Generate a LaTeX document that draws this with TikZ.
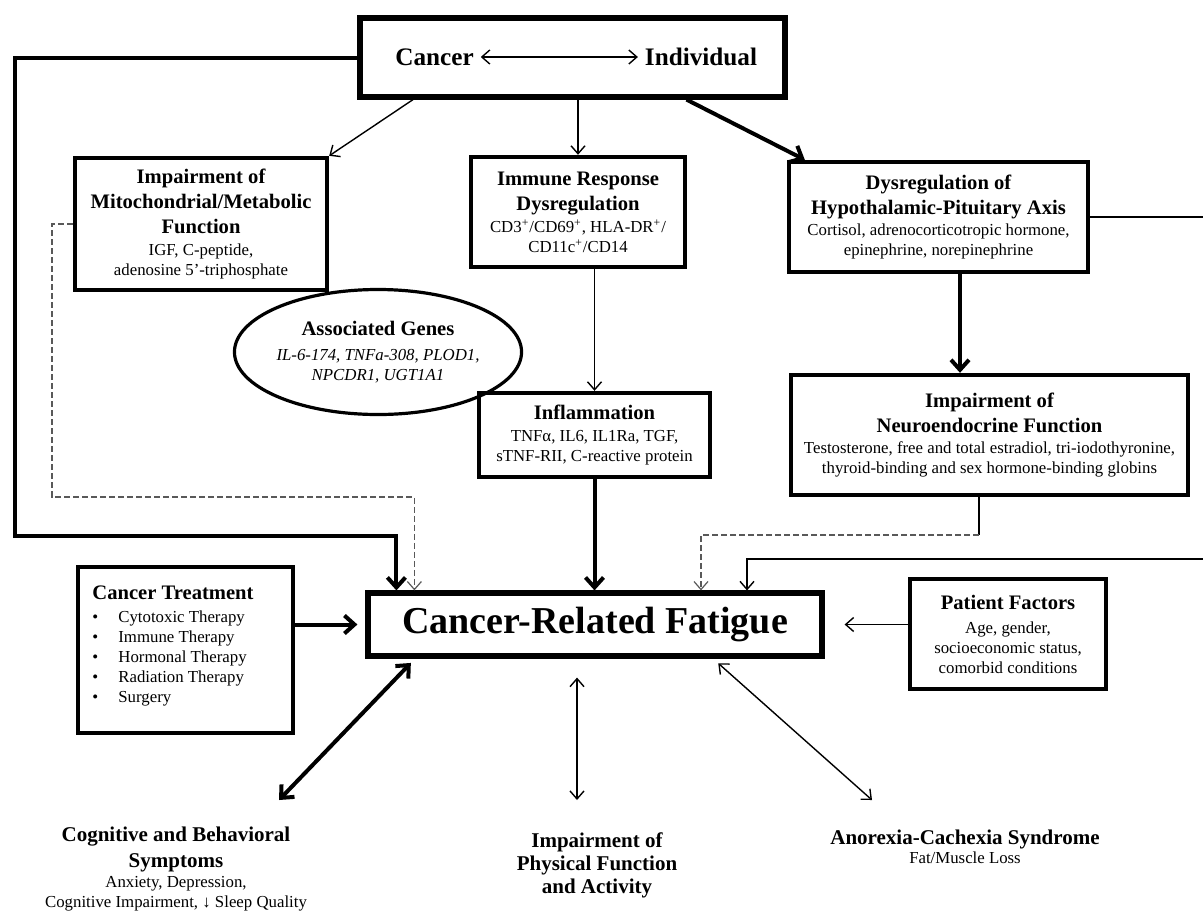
\documentclass[tikz,border=0pt]{standalone}
\usepackage{fontspec}
\setmainfont{Liberation Serif}
\usetikzlibrary{arrows.meta}
\usetikzlibrary{shapes.geometric}

\newcommand{\boxsmall}{\fontsize{8.4}{10}\selectfont}
\newcommand{\bhead}[1]{{\fontsize{10.3}{13}\selectfont\bfseries #1}}
\newcommand{\lhead}[1]{{\fontsize{10.5}{13}\selectfont\bfseries #1}}
\newcommand{\bitem}[1]{\makebox[13pt][l]{\textbullet}#1}

\begin{document}
\begin{tikzpicture}[x=0.5pt,y=-0.5pt,
    box/.style={draw,line width=2.2pt,align=center,inner sep=0pt,font=\boxsmall},
    lnk/.style={line width=0.7pt,-{Straight Barb[length=4pt,width=7pt]}},
    biglnk/.style={line width=2pt,-{Straight Barb[length=5pt,width=9pt]}},
    dashlnk/.style={line width=0.6pt,black!65,dash pattern=on 3pt off 1.5pt,-{Straight Barb[length=4pt,width=7pt]}}]
    \useasboundingbox (0,0) rectangle (1203,911);

    \node[box,line width=2.6pt,minimum width=212.5pt,minimum height=39.5pt] (top) at (572.5,57.5) {};
    \node[font=\fontsize{12.6}{15}\selectfont\bfseries] (cancer) at (434.5,57) {Cancer};
    \node[font=\fontsize{12.6}{15}\selectfont\bfseries] (indiv) at (701,57) {Individual};
    \draw[lnk,{Straight Barb[length=4pt,width=7pt]}-{Straight Barb[length=4pt,width=7pt]}] (cancer) -- (indiv);

    \node[box,minimum width=126pt,minimum height=66pt] (mito) at (201,224)
        {\bhead{Impairment of}\\[2.6pt]\bhead{Mitochondrial/Metabolic}\\[2.6pt]\bhead{Function}\\[0.8pt]IGF, C-peptide,\\adenosine 5’-triphosphate};
    \node[box,minimum width=107pt,minimum height=55pt] (immune) at (578,212)
        {\bhead{Immune Response}\\[2.6pt]\bhead{Dysregulation}\\[0.8pt]CD3\textsuperscript{+}/CD69\textsuperscript{+}, HLA-DR\textsuperscript{+}/\\CD11c\textsuperscript{+}/CD14};
    \node[box,minimum width=149.5pt,minimum height=55pt] (hpa) at (938.5,217)
        {\bhead{Dysregulation of}\\[2.6pt]\bhead{Hypothalamic-Pituitary Axis}\\[0.8pt]Cortisol, adrenocorticotropic hormone,\\epinephrine, norepinephrine};
    \node[draw,ellipse,line width=1.6pt,inner sep=0pt,minimum width=125pt,minimum height=62.5pt,align=center,font=\boxsmall\itshape] (genes) at (378,352)
        {\bhead{\upshape Associated Genes}\\[2.2pt]IL-6-174, TNFa-308, PLOD1,\\NPCDR1, UGT1A1};
    \node[box,minimum width=115.5pt,minimum height=42pt] (infl) at (594.5,435)
        {\bhead{Inflammation}\\[1pt]TNFα, IL6, IL1Ra, TGF,\\sTNF-RII, C-reactive protein};
    \node[box,minimum width=198.5pt,minimum height=60pt] (neuro) at (989.5,435)
        {\bhead{Impairment of}\\[2.6pt]\bhead{Neuroendocrine Function}\\[0.8pt]Testosterone, free and total estradiol, tri-iodothyronine,\\thyroid-binding and sex hormone-binding globins};

    \node[box,line width=2.6pt,minimum width=227pt,minimum height=31.5pt,font=\fontsize{19}{22}\selectfont\bfseries] (crf) at (595,624.5) {Cancer-Related Fatigue};
    \node[box,minimum width=107.5pt,minimum height=83pt] (tbox) at (185.5,650) {};
    \node[anchor=north west,inner sep=0pt,align=left,font=\boxsmall] (tlist) at (92,585)
        {\bhead{Cancer Treatment}\\[1.5pt]
         \bitem{Cytotoxic Therapy}\\
         \bitem{Immune Therapy}\\
         \bitem{Hormonal Therapy}\\
         \bitem{Radiation Therapy}\\
         \bitem{Surgery}};
    \node[box,minimum width=98pt,minimum height=55pt] (pat) at (1008,634)
        {\bhead{Patient Factors}\\[2pt]Age, gender,\\socioeconomic status,\\comorbid conditions};

    \node[align=center,font=\boxsmall] (cog) at (176,869)
        {\lhead{Cognitive and Behavioral}\\[3.2pt]\lhead{Symptoms}\\[0pt]Anxiety, Depression,\\Cognitive Impairment, ↓ Sleep Quality};
    \node[align=center,font=\fontsize{10.5}{11.5}\selectfont\bfseries] (phys) at (597,865)
        {Impairment of\\Physical Function\\and Activity};
    \node[align=center,font=\boxsmall] (ano) at (965,847)
        {\lhead{Anorexia-Cachexia Syndrome}\\[-0.5pt]Fat/Muscle Loss};
    \coordinate (cogtip) at (279,800);
    \coordinate (phystip) at (577,800);
    \coordinate (anotip) at (872,800);

    \draw[lnk] ([xshift=-79.75pt]top.south) -- (mito.north east);
    \draw[lnk] (top.south -| immune.north) -- (immune.north);
    \draw[biglnk] ([xshift=57pt]top.south) -- ([xshift=9pt]hpa.north west);
    \draw[lnk] (immune.south -| infl.north) -- (infl.north);
    \draw[biglnk] ([xshift=10.75pt]hpa.south) coordinate (h1) -- (h1 |- neuro.north);
    \draw[biglnk] (infl.south) -- (infl.south |- crf.north);
    \draw[biglnk] (top.west) -| (15,536) -| ([xshift=15.5pt]crf.north west);
    \draw[dashlnk] (mito.west) -| (52,497) -| ([xshift=24.5pt]crf.north west);
    \draw[line width=0.7pt] ([xshift=-5.25pt]neuro.south) coordinate (n1) -- (n1 |- 0,535) coordinate (n2);
    \draw[dashlnk] (n2) -| ([xshift=53pt]crf.north);
    \draw[lnk] (hpa.east) -| (1215,559) -| ([xshift=76pt]crf.north);
    \draw[biglnk,shorten >=4pt] (tbox.east |- crf.west) -- (crf.west);
    \draw[lnk,shorten >=10pt] (pat.west |- crf.east) -- (crf.east);

    \draw[biglnk,{Straight Barb[length=5pt,width=9pt]}-{Straight Barb[length=5pt,width=9pt]},shorten <=3pt] ([xshift=-90pt]crf.south) -- (cogtip);
    \draw[lnk,{Straight Barb[length=4pt,width=7pt]}-{Straight Barb[length=4pt,width=7pt]},shorten <=9.5pt] ([xshift=-9pt]crf.south) -- (phystip);
    \draw[lnk,{Straight Barb[length=4pt,width=7pt]}-{Straight Barb[length=4pt,width=7pt]},shorten <=3.5pt] ([xshift=59pt]crf.south) -- (anotip);
\end{tikzpicture}
\end{document}
